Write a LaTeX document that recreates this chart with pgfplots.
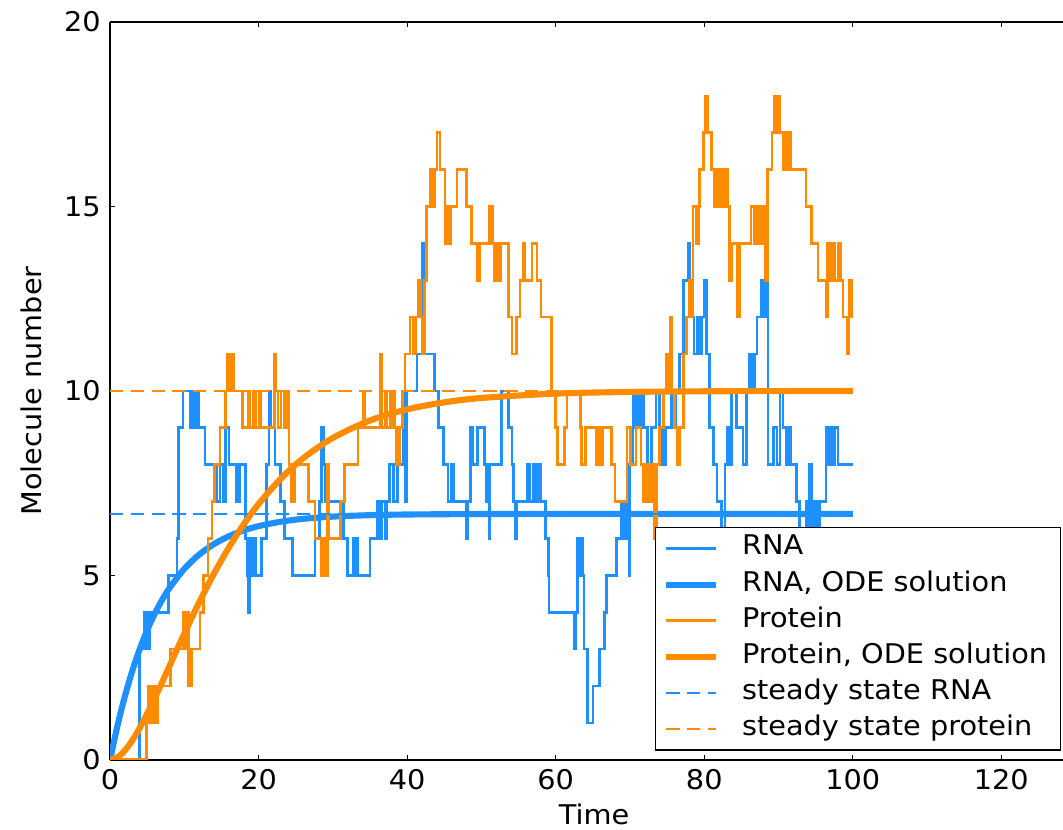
\documentclass[border=0pt]{standalone}
\usepackage{fontspec}
\setmainfont{DejaVu Sans}[FakeStretch=1.06]
\usepackage{pgfplots}
\pgfplotsset{compat=1.18}
\definecolor{rnablue}{RGB}{30,144,255}
\definecolor{protorange}{RGB}{255,140,0}
\begin{document}
\begin{tikzpicture}
\begin{axis}[
  scale only axis, width=358.3pt, height=277.4pt,
  xmin=0, xmax=128.3, ymin=0, ymax=20,
  axis x line*=box, axis y line*=left,
  xtick={0,20,...,120}, ytick={0,5,...,20},
  tick align=inside, major tick length=1.8pt,
  tick style={black, line width=0.4pt},
  axis line style={black, line width=0.6pt},
  xlabel={Time}, ylabel={Molecule number},
  label style={font=\fontsize{10.2}{12}\selectfont},
  tick label style={font=\fontsize{10.2}{12}\selectfont},
  /pgf/number format/assume math mode=true,
  xlabel style={at={(axis description cs:0.508,-0.0746)}, anchor=center},
  ylabel style={at={(axis description cs:-0.083,0.5)}, anchor=center},
  legend cell align=left,
  legend image code/.code={\draw[#1] (0pt,0pt) -- (18.8pt,0pt);},
  legend style={at={(rel axis cs:0.998,0.3155)}, anchor=north east,
    draw=black, line width=0.5pt, fill=white,
    font=\fontsize{10.2}{12}\selectfont,
    inner xsep=3pt, inner ysep=1pt, row sep=0pt,
    nodes={text height=7pt, text depth=2.2pt, inner ysep=2.2pt, inner xsep=2pt},
    /tikz/every odd column/.append style={column sep=6.5pt}},
]
% RNA stochastic trajectory
\addplot[const plot, rnablue, line width=1pt] coordinates {
(0,0)(4.0,3)(4.6,4)(5.0,3)(5.3,4)(7.9,5)(9.0,6)(9.2,9)(9.8,10)(10.8,9)(11.0,10)(11.3,9)(11.6,10)(11.9,9)(12.8,8)(14.4,7)(14.8,8)(15.3,7)(15.5,9)(16.0,8)(17.0,7)(17.4,8)(18.2,6)(18.5,5)(18.6,4)(18.8,6)(19.1,5)(19.4,6)(19.6,5)(20.4,6)(21.1,8)(21.4,10)(21.6,9)(22.2,8)(22.9,7)(23.5,6)(24.6,5)(27.6,6)(28.2,7)(28.5,9)(28.8,8)(29.0,7)(31.4,6)(32.0,5)(32.7,6)(32.9,5)(33.2,6)(33.4,5)(35.0,6)(36.0,7)(36.3,6)(36.6,7)(37.0,6)(37.3,7)(37.6,8)(38.2,7)(38.7,8)(39.5,10)(39.8,7)(39.9,10)(41.3,11)(42.0,14)(42.2,11)(43.7,10)(44.2,9)(44.9,8)(45.5,7)(46.0,8)(46.3,7)(48.0,6)(48.2,7)(48.5,9)(48.8,8)(49.5,9)(50.4,8)(50.7,7)(51.0,6)(51.1,8)(52.7,10)(53.6,9)(54.1,8)(54.3,7)(54.5,6)(54.8,7)(56.2,8)(56.5,7)(57.0,8)(57.3,7)(57.7,8)(58.0,7)(58.6,6)(59.0,5)(59.1,4)(62.5,3)(62.7,4)(62.9,6)(63.2,5)(63.4,6)(63.6,5)(63.8,3)(64.3,1)(65.0,2)(65.9,3)(66.6,4)(66.8,5)(68.2,6)(68.9,7)(69.2,6)(69.5,7)(69.7,8)(69.9,5)(70.0,8)(70.4,10)(70.7,9)(71.0,10)(71.3,9)(71.6,10)(71.8,9)(72.4,8)(72.9,9)(73.5,10)(74.0,9)(74.4,8)(74.8,9)(75.6,10)(75.9,9)(76.2,10)(76.7,11)(77.2,13)(77.8,14)(78.1,12)(78.6,11)(79.0,12)(79.3,11)(79.6,12)(80.0,13)(80.3,11)(80.7,9)(81.2,8)(81.7,7)(82.3,6)(82.8,8)(83.1,9)(83.4,8)(83.7,10)(84.3,9)(85.2,8)(85.7,10)(86.0,11)(86.4,10)(86.8,11)(87.1,12)(87.7,13)(88.0,12)(88.3,13)(88.6,8)(89.3,9)(89.8,8)(90.2,10)(90.6,9)(91.0,8)(91.3,9)(91.6,8)(92.4,7)(92.8,6)(93.7,7)(93.9,6)(94.2,8)(94.4,6)(94.8,7)(95.1,6)(95.5,7)(96.4,9)(96.7,8)(97.0,9)(97.3,8)(97.6,9)(98.0,8)(100,8)
};
\addlegendentry{RNA}
% RNA ODE solution
\addplot[rnablue, line width=2.3pt, smooth] coordinates {
(0,0)(1,0.929)(2,1.728)(3,2.416)(4,3.008)(5,3.518)(6,3.956)(7,4.334)(8,4.659)(10,5.179)(12,5.565)(14,5.850)(16,6.062)(18,6.219)(20,6.335)(23,6.455)(26,6.532)(30,6.593)(35,6.632)(40,6.650)(50,6.663)(60,6.666)(80,6.667)(100,6.667)
};
\addlegendentry{RNA, ODE solution}
% Protein stochastic trajectory
\addplot[const plot, protorange, line width=1pt] coordinates {
(0,0)(4.9,1)(5.2,2)(5.5,1)(5.8,2)(6.1,1)(6.4,2)(8.1,3)(9.9,4)(10.2,3)(10.4,4)(10.6,2)(11.0,3)(12.1,4)(12.6,5)(13.2,6)(13.7,7)(14.1,8)(14.8,9)(15.5,10)(15.8,11)(16.0,10)(16.2,11)(16.6,10)(17.8,9)(18.6,10)(18.8,9)(19.3,10)(19.6,9)(20.1,10)(20.3,9)(22.1,11)(22.3,10)(22.6,9)(23.0,10)(23.5,9)(23.8,10)(24.1,8)(24.4,7)(24.8,8)(26.7,7)(27.6,6)(28.5,5)(28.8,6)(29.0,5)(29.3,8)(29.4,6)(31.0,7)(31.6,8)(33.4,9)(34.1,10)(34.3,9)(36.4,11)(36.6,9)(37.0,10)(37.2,9)(37.7,10)(37.8,9)(38.1,10)(38.3,9)(38.6,8)(39.0,9)(39.4,10)(39.7,11)(40.4,12)(40.8,11)(41.1,12)(41.5,13)(41.8,12)(42.0,11)(42.3,13)(42.6,15)(43.1,16)(43.5,15)(43.7,16)(44.0,17)(44.4,16)(45.1,14)(45.3,15)(45.6,14)(45.8,15)(46.7,16)(48.0,15)(48.7,14)(49.5,13)(49.7,14)(51.1,15)(51.5,14)(51.8,13)(52.0,14)(52.4,13)(52.6,14)(53.6,12)(54.1,11)(54.7,12)(55.2,13)(55.6,14)(55.8,13)(56.8,14)(57.5,13)(58.0,12)(59.4,10)(60.0,9)(60.2,8)(61.2,9)(61.5,10)(63.3,9)(63.5,8)(64.0,9)(65.5,8)(65.8,9)(66.0,8)(66.3,9)(67.5,8)(68.0,7)(69.6,9)(70.1,8)(70.8,9)(71.5,8)(71.8,7)(72.2,8)(72.6,7)(73.0,8)(73.3,6)(73.6,8)(74.0,9)(74.5,10)(74.9,11)(75.2,10)(75.4,12)(75.6,10)(76.0,9)(76.4,8)(76.7,9)(77.2,11)(77.6,12)(78.0,13)(78.2,12)(78.5,15)(78.9,14)(79.2,15)(79.4,16)(79.9,17)(80.1,18)(80.4,17)(81.0,16)(81.4,15)(81.6,16)(81.9,15)(82.2,16)(82.6,15)(82.9,16)(83.2,15)(83.4,13)(83.7,14)(84.5,12)(84.7,14)(86.3,15)(86.7,14)(87.0,15)(87.4,14)(87.8,15)(88.2,13)(88.5,16)(89.1,17)(89.5,18)(89.8,17)(90.0,18)(90.2,17)(90.6,16)(90.9,17)(91.2,16)(91.5,17)(91.7,16)(93.7,15)(94.4,14)(95.3,13)(96.4,12)(96.6,14)(97.0,13)(97.3,14)(97.6,13)(98.0,14)(98.3,13)(98.7,12)(99.2,11)(99.5,13)(99.8,12)(100,12)
};
\addlegendentry{Protein}
% Protein ODE solution
\addplot[protorange, line width=2.3pt, smooth] coordinates {
(0,0)(1,0.070)(2,0.255)(3,0.528)(4,0.867)(5,1.253)(6,1.668)(7,2.100)(8,2.545)(10,3.425)(12,4.270)(14,5.052)(16,5.757)(18,6.385)(20,6.937)(23,7.625)(26,8.175)(30,8.728)(35,9.199)(40,9.501)(45,9.690)(50,9.809)(60,9.928)(70,9.973)(80,9.990)(90,9.996)(100,9.999)
};
\addlegendentry{Protein, ODE solution}
% steady states
\addplot[rnablue, line width=0.8pt, dash pattern=on 5pt off 2.8pt] coordinates {(0,6.667)(100,6.667)};
\addlegendentry{steady state RNA}
\addplot[protorange, line width=0.8pt, dash pattern=on 5pt off 2.8pt] coordinates {(0,10)(100,10)};
\addlegendentry{steady state protein}
\end{axis}
\pgfresetboundingbox
\useasboundingbox ([shift={(-41.4pt,-26.3pt)}]current axis.south west) rectangle ([shift={(0pt,8.3pt)}]current axis.north east);
\end{tikzpicture}
\end{document}
